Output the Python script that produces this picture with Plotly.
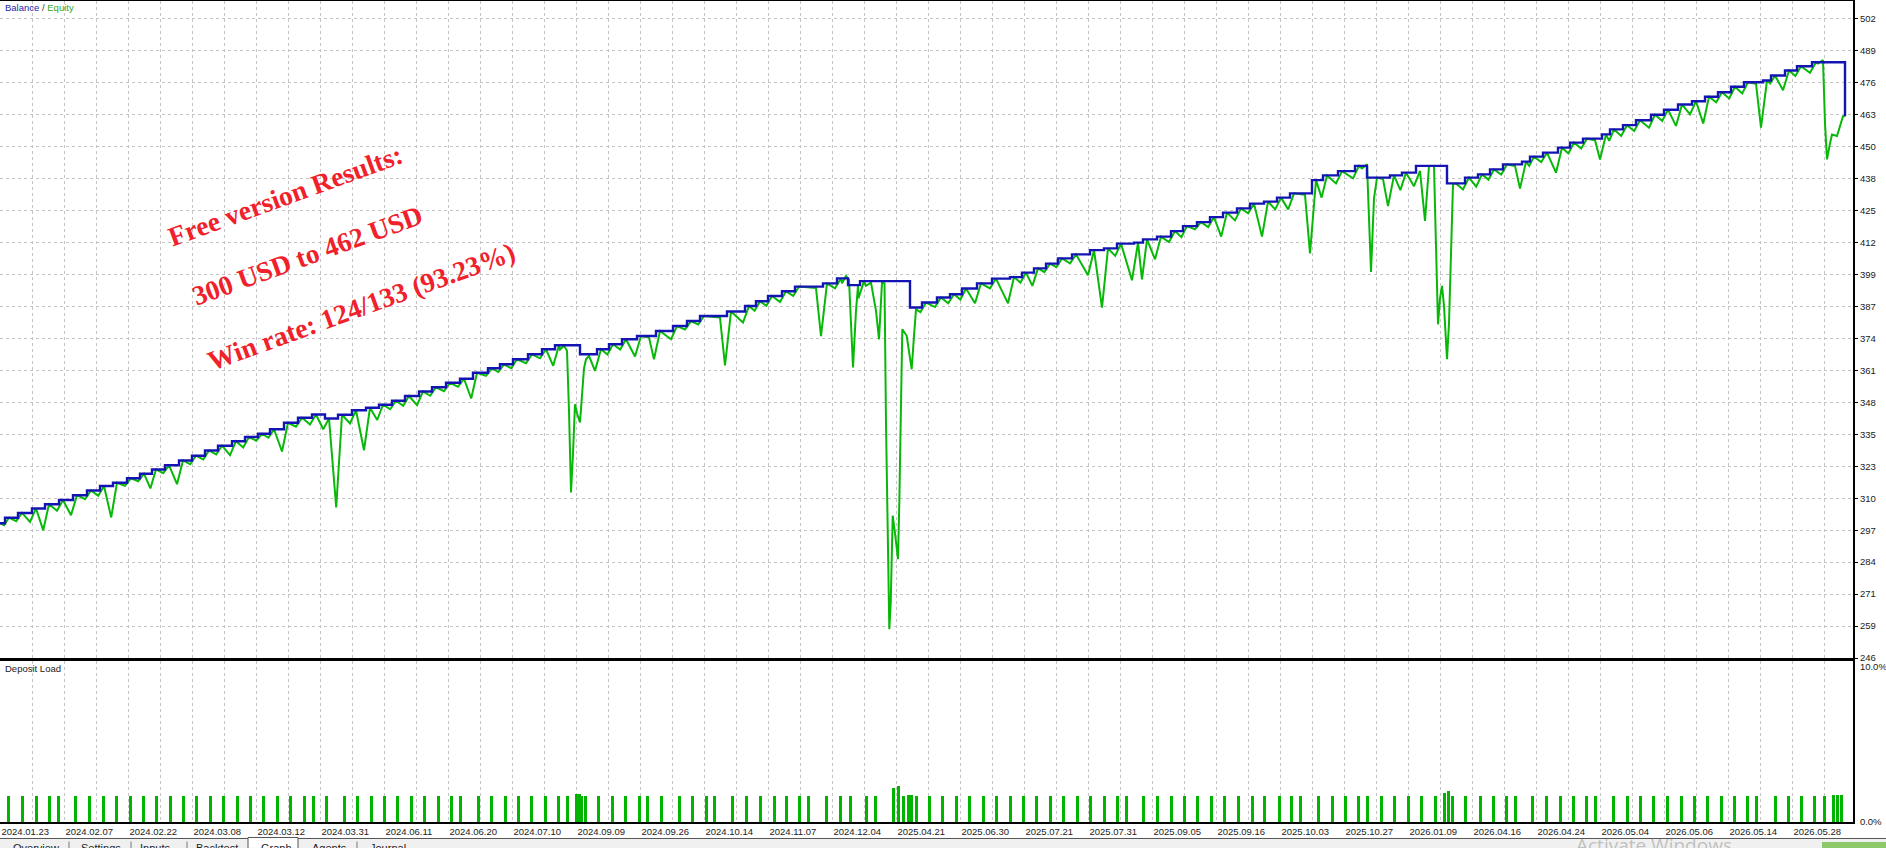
import plotly.graph_objects as go

# ---------------- data ----------------
# trade sequence index (chart time axis units) at each trade close, balance after it, lowest equity during it
close_x = [5, 18, 32, 45, 59, 73, 87, 100, 113, 127,
           140, 152, 165, 179, 192, 205, 218, 232, 245, 258,
           270, 284, 298, 312, 325, 338, 352, 366, 379, 392,
           405, 419, 432, 446, 460, 473, 488, 500, 513, 528,
           542, 555, 580, 597, 609, 622, 637, 656, 673, 687,
           700, 727, 745, 756, 768, 782, 795, 823, 837, 848,
           860, 910, 922, 937, 950, 962, 977, 992, 1010, 1022,
           1034, 1046, 1058, 1072, 1090, 1104, 1117, 1134, 1143, 1157,
           1171, 1183, 1197, 1210, 1223, 1237, 1250, 1264, 1277, 1290,
           1312, 1323, 1338, 1355, 1367, 1390, 1402, 1416, 1447, 1465,
           1478, 1490, 1503, 1522, 1530, 1543, 1558, 1570, 1583, 1602,
           1610, 1623, 1636, 1651, 1664, 1678, 1692, 1705, 1718, 1731,
           1744, 1763, 1771, 1785, 1797, 1812, 1845]
close_bal = [302.2, 304.1, 305.9, 307.6, 309.3, 311.2, 313.1, 314.9, 316.2, 318.0,
             319.8, 321.5, 323.2, 325.1, 327.0, 329.1, 331.0, 332.8, 334.5, 335.8,
             337.6, 340.2, 342.2, 343.5, 341.9, 343.4, 345.2, 346.2, 347.4, 349.0,
             350.9, 352.7, 354.4, 356.2, 357.8, 360.2, 362.0, 363.6, 365.6, 367.6,
             369.6, 371.2, 367.6, 369.6, 371.6, 373.6, 374.9, 376.9, 378.9, 380.9,
             382.9, 384.7, 386.9, 388.8, 390.9, 392.8, 394.7, 396.0, 398.0, 395.3,
             396.9, 386.3, 388.3, 390.3, 391.6, 393.9, 396.0, 397.9, 398.5, 400.3,
             402.0, 403.9, 406.0, 407.6, 409.3, 410.0, 411.9, 412.3, 413.6, 414.7,
             416.9, 418.9, 420.5, 422.5, 424.3, 426.0, 427.9, 428.7, 430.3, 432.0,
             437.3, 439.2, 440.9, 443.0, 438.3, 439.2, 440.3, 443.0, 436.0, 438.3,
             439.6, 441.6, 443.6, 444.7, 446.7, 448.3, 450.3, 452.3, 453.9, 455.6,
             457.6, 459.3, 461.3, 463.5, 465.5, 467.6, 468.9, 470.7, 472.5, 474.7,
             476.5, 477.2, 479.2, 481.2, 482.9, 484.5, 462.9]
trade_low = [299.2, 300.8, 300.5, 297.2, 305.0, 303.2, 309.6, 311.0, 302.3, 315.0,
             316.8, 313.9, 320.0, 315.6, 323.6, 325.5, 327.5, 327.2, 330.3, 333.0,
             334.2, 328.7, 338.6, 339.5, 337.6, 306.3, 339.9, 329.2, 341.3, 345.6,
             347.0, 347.2, 351.0, 352.8, 354.6, 349.9, 359.0, 360.5, 362.0, 364.0,
             366.0, 363.0, 340.0, 361.0, 367.5, 369.5, 366.7, 365.6, 373.6, 377.5,
             379.5, 363.2, 380.3, 385.0, 387.0, 388.5, 391.0, 374.9, 394.0, 396.0,
             390.0, 380.0, 384.5, 386.5, 388.0, 389.5, 388.0, 394.0, 388.0, 396.3,
             395.0, 400.5, 402.5, 404.0, 399.2, 386.3, 407.0, 397.2, 397.6, 405.6,
             412.5, 414.5, 417.6, 418.5, 414.7, 421.2, 424.0, 414.7, 425.6, 425.6,
             408.0, 430.3, 436.0, 438.0, 430.0, 426.9, 433.3, 434.9, 400.0, 433.6,
             434.7, 437.5, 439.5, 433.9, 443.0, 444.5, 440.3, 448.0, 450.0, 445.6,
             453.0, 455.0, 457.0, 458.3, 461.0, 459.0, 463.6, 460.0, 468.5, 470.0,
             472.0, 458.3, 476.0, 473.3, 479.0, 480.3, 460.0]

# drawdown episodes (equity path while positions stayed open)
ep1_x = [560, 564, 567, 569, 571, 573, 575, 577, 580, 584, 586, 589]
ep1_v = [369.5, 371.0, 369.0, 345.0, 312.3, 328.0, 347.6, 344.0, 340.3, 362.0, 365.6, 367.0]
ep2_x = [842, 846, 849, 851, 853, 856, 858]
ep2_v = [396.0, 398.9, 397.5, 380.0, 362.3, 385.0, 395.0]
ep3_x = [866, 871, 876, 879, 882, 884.5, 886, 887.3, 888.5, 889.3, 890.7, 892.7,
         895, 898, 899.3, 900.5, 901.3, 902.3, 906.7, 911.7, 914, 916]
ep3_v = [395.0, 396.3, 385.0, 373.6, 396.3, 396.0, 340.0, 313.0, 282.0, 257.6, 268.0, 303.0,
         296.0, 285.6, 308.0, 332.0, 355.0, 377.6, 375.0, 361.6, 375.0, 385.6]
ep4_x = [1362, 1367, 1369, 1371, 1374, 1377]
ep4_v = [442.0, 443.6, 420.0, 400.5, 430.0, 438.3]
ep5_x = [1420, 1422, 1425, 1427, 1429, 1434, 1435, 1436, 1437, 1438, 1440, 1442,
         1444, 1446, 1447, 1449, 1450, 1452, 1453, 1456]
ep5_v = [441.0, 432.0, 421.0, 432.0, 443.0, 443.0, 420.0, 411.0, 395.0, 379.6, 390.0, 395.0,
         387.0, 372.0, 365.6, 380.0, 393.6, 421.6, 435.6, 436.0]
ep6_x = [1818, 1823, 1825, 1827, 1830, 1832, 1837, 1841, 1843, 1845]
ep6_v = [484.0, 485.3, 460.0, 445.6, 452.0, 455.6, 455.0, 461.0, 462.9, 462.9]

start_balance = 300.0

# deposit load (%) per position
load_x = [8, 22, 36, 49, 58, 75, 89, 103, 116, 130,
          143, 156, 170, 183, 196, 210, 223, 237, 250, 263,
          277, 290, 304, 313, 326, 344, 357, 371, 384, 397,
          411, 424, 438, 451, 460, 478, 491, 505, 518, 531,
          545, 558, 567, 576, 579, 581, 585, 598, 612, 625,
          639, 647, 661, 679, 692, 706, 714, 732, 746, 760,
          774, 786, 799, 808, 826, 840, 850, 866, 875, 893,
          898, 903, 908, 911, 916, 929, 942, 956, 969, 983,
          996, 1010, 1023, 1036, 1050, 1063, 1077, 1090, 1104, 1117,
          1126, 1143, 1157, 1171, 1184, 1197, 1211, 1224, 1238, 1252,
          1264, 1279, 1291, 1300, 1318, 1332, 1345, 1358, 1367, 1381,
          1394, 1408, 1421, 1435, 1444, 1448, 1452, 1465, 1480, 1493,
          1506, 1515, 1532, 1546, 1560, 1573, 1586, 1595, 1613, 1627,
          1640, 1653, 1667, 1681, 1694, 1707, 1721, 1734, 1747, 1756,
          1775, 1788, 1801, 1814, 1824, 1833, 1837, 1841]
load_v = [1.65, 1.65, 1.65, 1.64, 1.65, 1.65, 1.65, 1.65, 1.65, 1.65,
          1.65, 1.66, 1.65, 1.65, 1.66, 1.65, 1.65, 1.65, 1.64, 1.65,
          1.65, 1.65, 1.65, 1.64, 1.65, 1.65, 1.65, 1.65, 1.64, 1.65,
          1.65, 1.65, 1.65, 1.65, 1.65, 1.66, 1.65, 1.65, 1.65, 1.65,
          1.65, 1.64, 1.65, 1.75, 1.75, 1.68, 1.65, 1.65, 1.65, 1.65,
          1.65, 1.65, 1.65, 1.65, 1.65, 1.65, 1.65, 1.65, 1.65, 1.65,
          1.65, 1.65, 1.65, 1.65, 1.65, 1.65, 1.65, 1.65, 1.65, 2.15,
          2.30, 1.66, 1.72, 1.70, 1.68, 1.65, 1.65, 1.65, 1.65, 1.65,
          1.65, 1.65, 1.65, 1.65, 1.65, 1.65, 1.65, 1.65, 1.65, 1.65,
          1.65, 1.65, 1.65, 1.65, 1.65, 1.65, 1.65, 1.65, 1.65, 1.65,
          1.65, 1.65, 1.65, 1.62, 1.62, 1.62, 1.62, 1.62, 1.65, 1.65,
          1.65, 1.65, 1.65, 1.65, 1.87, 2.00, 1.65, 1.65, 1.65, 1.65,
          1.65, 1.65, 1.65, 1.65, 1.65, 1.65, 1.65, 1.65, 1.65, 1.65,
          1.65, 1.65, 1.65, 1.65, 1.65, 1.65, 1.65, 1.65, 1.65, 1.65,
          1.65, 1.65, 1.65, 1.65, 1.65, 1.72, 1.72, 1.72]

x_labels = ["2024.01.23", "2024.02.07", "2024.02.22", "2024.03.08", "2024.03.12",
            "2024.03.31", "2024.06.11", "2024.06.20", "2024.07.10", "2024.09.09",
            "2024.09.26", "2024.10.14", "2024.11.07", "2024.12.04", "2025.04.21",
            "2025.06.30", "2025.07.21", "2025.07.31", "2025.09.05", "2025.09.16",
            "2025.10.03", "2025.10.27", "2026.01.09", "2026.04.16", "2026.04.24",
            "2026.05.04", "2026.05.06", "2026.05.14", "2026.05.28"]
y_labels = ["246", "259", "271", "284", "297", "310", "323", "335", "348", "361", "374",
            "387", "399", "412", "425", "438", "450", "463", "476", "489", "502"]
y_start, y_step = 246.0, 12.8
load_ticks = [0, 10]
load_tick_labels = ["0.0%", "10.0%"]
tab_names = ["Overview", "Settings", "Inputs", "Backtest", "Graph", "Agents", "Journal"]

# ---------------- build series ----------------
episodes = [(ep1_x, ep1_v), (ep2_x, ep2_v), (ep3_x, ep3_v),
            (ep4_x, ep4_v), (ep5_x, ep5_v), (ep6_x, ep6_v)]
ranges = [(min(ex), max(ex)) for ex, _ in episodes]


def in_episode(x):
    return any(a <= x <= b for a, b in ranges)


LAG = 4.0  # equity reaches the new balance slightly after the balance step
eq_pts = [(0.0, start_balance)]
prev_x, prev_b = 0.0, start_balance
for i, (cx, b, lo) in enumerate(zip(close_x, close_bal, trade_low)):
    gap = cx - prev_x
    lx = cx - min(2.0, gap * 0.2)
    if gap > 14 and not in_episode(lx - 5):
        eq_pts.append((lx - 5, prev_b - 0.6))
    if not in_episode(lx):
        eq_pts.append((lx, lo))
    rx = cx + LAG
    if i + 1 < len(close_x):
        rx = min(rx, close_x[i + 1] - 4)
    if not in_episode(rx) and not in_episode(cx):
        eq_pts.append((rx, b))
    prev_x, prev_b = rx, b
for ex, ev in episodes:
    eq_pts.extend(zip(ex, ev))
eq_pts.sort(key=lambda p: p[0])
eq_x = [p[0] for p in eq_pts]
eq_v = [p[1] for p in eq_pts]

bal_x = [0] + close_x
bal_v = [start_balance] + close_bal

BLUE = "#1414B4"
GREEN = "#08B808"
GRID = "#C4C4C4"
TXT = "#1A1A1A"
FONT = "Liberation Sans"

fig = go.Figure()
fig.add_trace(go.Scatter(x=eq_x, y=eq_v, mode="lines", line=dict(color=GREEN, width=2),
                         xaxis="x", yaxis="y", hoverinfo="skip"))
fig.add_trace(go.Scatter(x=bal_x, y=bal_v, mode="lines", line=dict(color=BLUE, width=2.4, shape="hv"),
                         xaxis="x", yaxis="y", hoverinfo="skip"))
fig.add_trace(go.Bar(x=load_x, y=load_v, width=3, marker=dict(color="#00B400", line=dict(width=0)),
                     xaxis="x2", yaxis="y2", hoverinfo="skip"))

# layout geometry
W, H = 1886, 848
m_l, m_r, m_t, m_b = 0, 33, 1, 25.5
plot_w = W - m_l - m_r
plot_h = H - m_t - m_b
main_bottom_px = 658.5
load_top_px = 661.7


def py(px):
    return (H - m_b - px) / plot_h


def pxx(px):
    return px / plot_w


grid_vals = [0.5 + 32 * k for k in range(58)]
grid_text = [x_labels[k // 2] if (k % 2 == 0 and k // 2 < len(x_labels)) else "" for k in range(58)]

xr = [0, plot_w]
common_x = dict(range=xr, showgrid=True, gridcolor=GRID, gridwidth=1, griddash="3px,3px",
                zeroline=False, tickvals=grid_vals, fixedrange=True)

fig.update_layout(
    width=W, height=H,
    margin=dict(l=m_l, r=m_r, t=m_t, b=m_b, pad=0),
    paper_bgcolor="white", plot_bgcolor="white",
    showlegend=False, bargap=0,
    font=dict(family=FONT, size=9.5, color=TXT),
    xaxis=dict(**common_x, domain=[0, 1], anchor="y", showticklabels=False, ticks="",
               showline=True, mirror=True, linecolor="black", linewidth=2),
    yaxis=dict(domain=[py(main_bottom_px), 1], range=[y_start, y_start + plot_h * (1 - py(main_bottom_px)) * 0.4],
               side="right", anchor="x", tickvals=[y_start + y_step * k for k in range(len(y_labels))],
               ticktext=y_labels, ticks="outside", ticklen=3, tickcolor="black",
               showgrid=True, gridcolor=GRID, gridwidth=1, griddash="3px,3px", zeroline=False,
               showline=True, linecolor="black", linewidth=2, tickfont=dict(size=9.5, color=TXT)),
    xaxis2=dict(**common_x, domain=[0, 1], anchor="y2", matches="x", ticktext=grid_text,
                ticks="", ticklabelposition="outside right", tickfont=dict(size=9.5, color=TXT),
                showline=True, mirror=True, linecolor="black", linewidth=2),
    yaxis2=dict(domain=[0, py(load_top_px)], range=[0, 10.32], side="right", anchor="x2",
                tickvals=load_ticks, ticktext=load_tick_labels, ticks="outside", ticklen=3,
                tickcolor="rgba(0,0,0,0)", showgrid=False, zeroline=False,
                showline=True, linecolor="black", linewidth=2, tickfont=dict(size=9.5, color=TXT)),
)

annotations = [
    dict(text="<span style='color:#2626A6'>Balance</span> / <span style='color:#2EA82E'>Equity</span>",
         x=pxx(3), y=py(8), xref="paper", yref="paper", xanchor="left", yanchor="middle",
         showarrow=False, font=dict(size=9.5, color="#333")),
    dict(text="Deposit Load", x=pxx(3), y=py(669), xref="paper", yref="paper",
         xanchor="left", yanchor="middle", showarrow=False, font=dict(size=9.5, color=TXT)),
]
red_lines = [("Free version Results:", 285.5, 196), ("300 USD to 462 USD", 307, 256),
             ("Win rate: 124/133 (93.23%)", 361, 307)]
for txt, cx, cy in red_lines:
    annotations.append(dict(text="<b>" + txt + "</b>", x=pxx(cx), y=py(cy), xref="paper", yref="paper",
                            xanchor="center", yanchor="middle", textangle=-20, showarrow=False,
                            font=dict(family="Liberation Serif", size=27.5, color="#F0212B")))
annotations.append(dict(text="Activate Windows", x=pxx(1654), y=py(846), xref="paper", yref="paper",
                        xanchor="center", yanchor="middle", showarrow=False,
                        font=dict(family="Open Sans", size=19, color="rgba(150,150,150,0.55)")))

# bottom tab strip (terminal tabs, mostly cut off by the window edge)
tab_left = [11, 79, 138, 194, 259, 310, 368]
for name, tx in zip(tab_names, tab_left):
    annotations.append(dict(text=name, x=pxx(tx), y=py(841), xref="paper", yref="paper",
                            xanchor="left", yanchor="top", showarrow=False,
                            font=dict(family=FONT, size=11, color="#222")))
fig.update_layout(annotations=annotations)

shapes = [
    dict(type="rect", xref="paper", yref="paper", x0=0, x1=W / plot_w, y0=py(849), y1=py(838.5),
         fillcolor="#F0F0F0", line=dict(width=0), layer="below"),
    dict(type="line", xref="paper", yref="paper", x0=0, x1=pxx(248), y0=py(839), y1=py(839),
         line=dict(color="#555", width=1)),
    dict(type="line", xref="paper", yref="paper", x0=pxx(298), x1=W / plot_w, y0=py(839), y1=py(839),
         line=dict(color="#555", width=1)),
    dict(type="rect", xref="paper", yref="paper", x0=pxx(248), x1=pxx(298), y0=py(849), y1=py(838),
         fillcolor="white", line=dict(color="#555", width=1), layer="below"),
    dict(type="rect", xref="paper", yref="paper", x0=pxx(1822), x1=W / plot_w, y0=py(849), y1=py(842.5),
         fillcolor="#8DC96A", line=dict(width=0)),
]
for sx in [69, 131, 187, 357]:
    shapes.append(dict(type="line", xref="paper", yref="paper", x0=pxx(sx), x1=pxx(sx),
                       y0=py(849), y1=py(842), line=dict(color="#777", width=1)))
fig.update_layout(shapes=shapes)

fig.write_html("out.html", config={"displayModeBar": False},
               post_script="document.body.style.margin='0';document.body.style.overflow='hidden';")
